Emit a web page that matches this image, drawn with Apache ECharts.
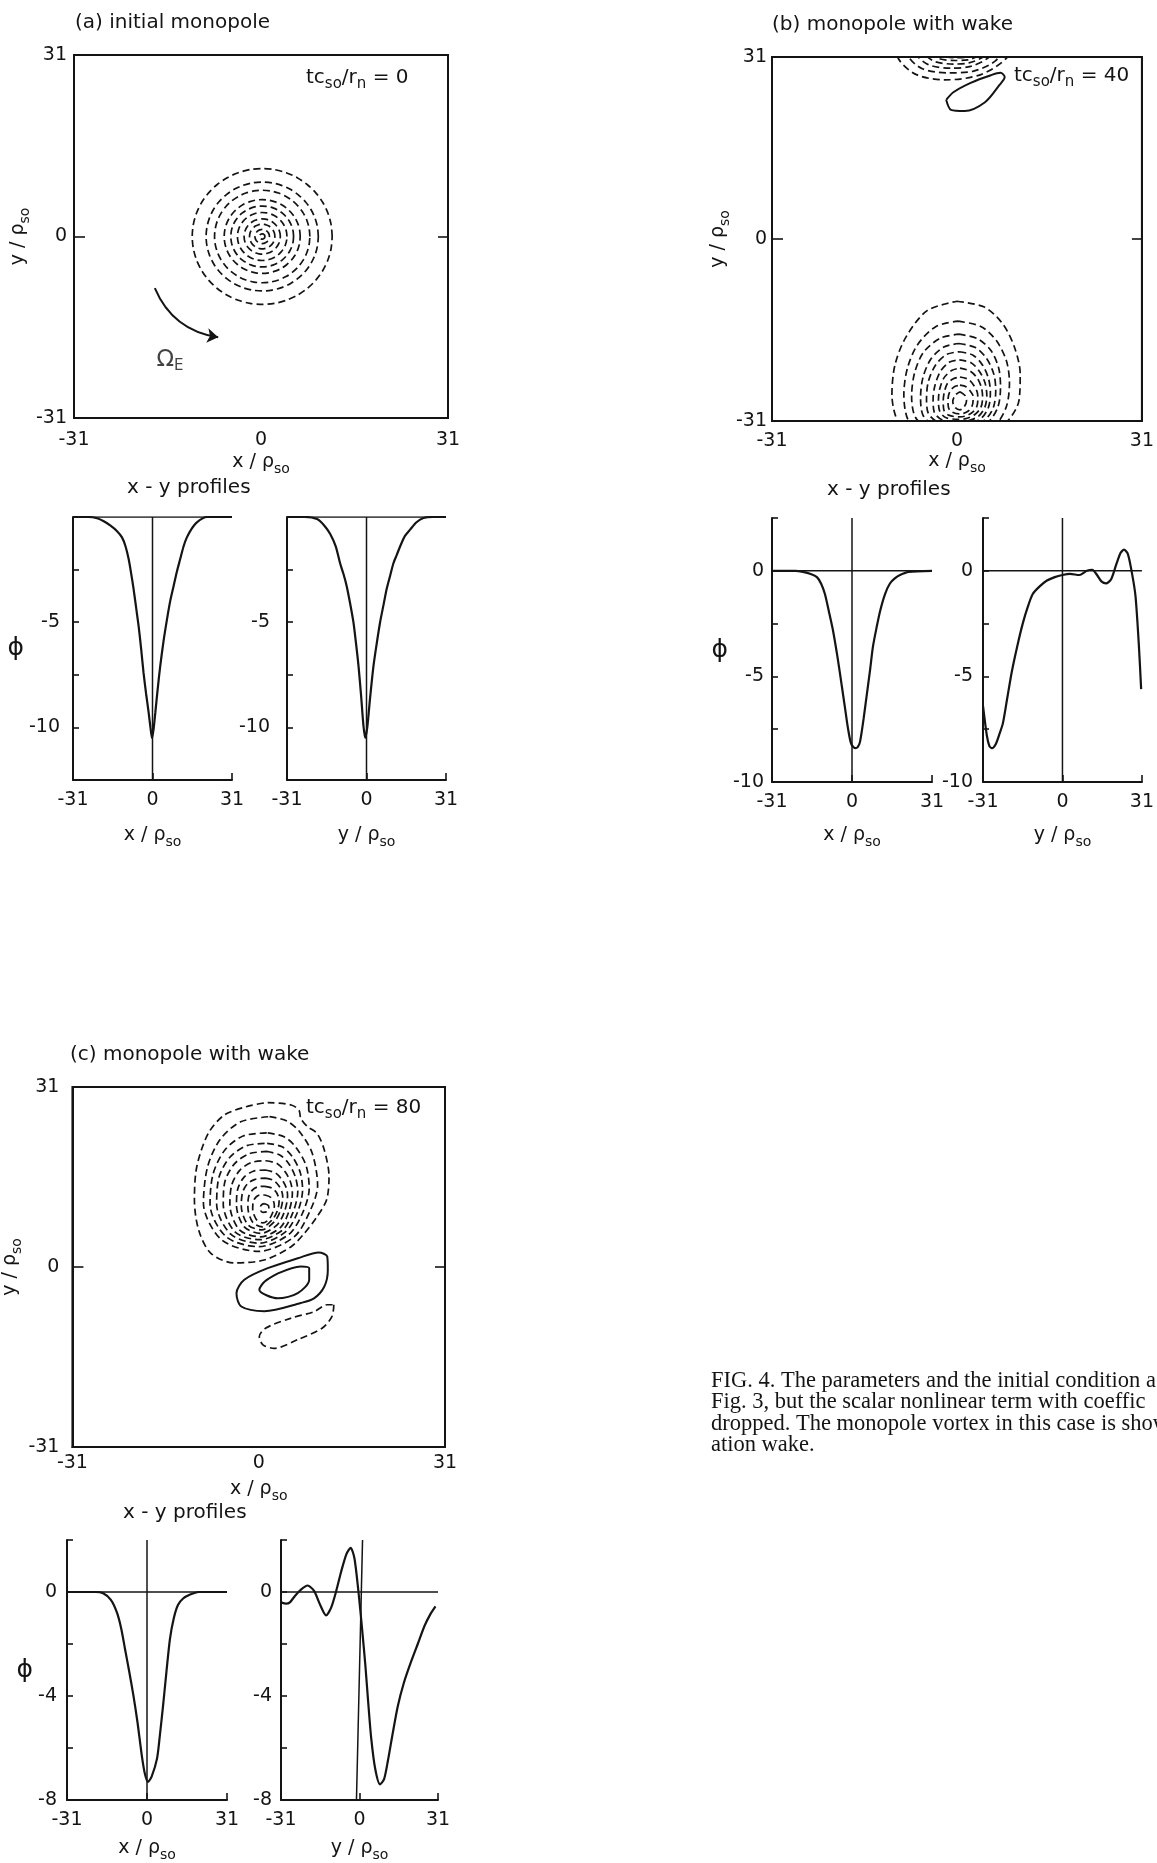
<!DOCTYPE html>
<html><head><meta charset="utf-8">
<script src="https://cdn.jsdelivr.net/npm/echarts/dist/echarts.min.js"></script>
<style>html,body{margin:0;padding:0;background:#fff}#c{width:1157px;height:1863px}</style>
</head><body><div id="c"></div>
<script>
// ---------------- data ----------------
const axisTickValues = [-31, 0, 31];
const aPhiLabels = [-5, -10];
const bPhiLabels = [0, -5, -10];
const cPhiLabels = [0, -4, -8];

// (a) initial monopole: concentric contour radii around the vortex centre
const aVortexCenter = [0.2, 0.0];
const aRingRadii = [11.6, 9.3, 7.9, 6.3, 5.2, 4.1, 3.0, 2.1, 1.2, 0.45];
const omegaArrow = [[-17.6, -8.8], [-7.1, -17.2]];
const omegaLabelPos = [-15.1, -21.1];

// (b) monopole with wake (t=40): nested negative contours (periodic in y)
const bRing1 = [[0,-10.6],[4.6,-11.6],[7.7,-14.5],[9.7,-18.6],[10.6,-23],[10.4,-27.5],[8.3,-31.2],[4,-34.0],[-2,-34.9],[-6.8,-34.0],[-9.8,-31.3],[-10.9,-26.5],[-10.4,-21.5],[-8.6,-16.8],[-5.0,-12.2]];
const bRing2 = [[0.2,-14.0],[4.0,-14.9],[6.6,-17.3],[8.3,-20.8],[8.8,-24.5],[8.3,-28.5],[6.5,-31.6],[2.8,-33.4],[-1.5,-33.7],[-5.8,-33],[-8.2,-30.8],[-8.9,-26.5],[-8.3,-22.0],[-6.6,-18.0],[-3.5,-14.9]];
const bRing3 = [[0.3,-16.2],[3.5,-17.0],[5.7,-19.0],[7.0,-22.0],[7.3,-25.2],[6.9,-28.5],[5.4,-31.0],[2.3,-32.6],[-1.0,-32.9],[-4.8,-32.3],[-7.0,-30.3],[-7.6,-26.8],[-7.1,-22.8],[-5.6,-19.3],[-2.8,-16.9]];
const bRing4 = [[0.3,-17.8],[3.1,-18.5],[5.0,-20.4],[6.2,-23.1],[6.5,-25.8],[6.1,-28.7],[4.7,-30.8],[2.0,-32.0],[-0.6,-32.2],[-3.9,-31.7],[-5.7,-30.0],[-6.1,-27.0],[-5.7,-23.6],[-4.4,-20.5],[-2.2,-18.4]];
const bRing5 = [[0.4,-19.2],[2.7,-19.8],[4.3,-21.5],[5.3,-23.8],[5.6,-26.2],[5.3,-28.6],[4.1,-30.5],[1.8,-31.5],[-0.3,-31.6],[-3.2,-31.2],[-4.8,-29.7],[-5.1,-27.2],[-4.8,-24.3],[-3.6,-21.5],[-1.8,-19.7]];
const bRing6 = [[0.4,-20.6],[2.4,-21.1],[3.8,-22.6],[4.7,-24.5],[5.0,-26.6],[4.7,-28.6],[3.6,-30.2],[1.7,-31.0],[0,-31.1],[-2.5,-30.8],[-3.8,-29.5],[-4.0,-27.3],[-3.7,-25.0],[-2.8,-22.6],[-1.3,-21.0]];
const bRing7 = [[0.5,-22.0],[2.2,-22.5],[3.4,-23.7],[4.1,-25.3],[4.3,-27.0],[4.0,-28.7],[3.0,-29.9],[1.5,-30.6],[0.2,-30.7],[-1.9,-30.4],[-2.9,-29.3],[-3.1,-27.4],[-2.9,-25.6],[-2.2,-23.7],[-0.9,-22.4]];
const bRing8 = [[0.5,-23.5],[1.9,-23.9],[2.8,-24.9],[3.4,-26.1],[3.5,-27.3],[3.3,-28.6],[2.5,-29.6],[1.3,-30.2],[0.3,-30.3],[-1.4,-30.0],[-2.2,-29.1],[-2.3,-27.5],[-2.1,-26.0],[-1.6,-24.6],[-0.6,-23.8]];
const bRing9 = [[0.5,-24.9],[1.6,-25.2],[2.3,-26.0],[2.7,-26.8],[2.7,-27.6],[2.5,-28.5],[1.9,-29.3],[1.1,-29.7],[0.4,-29.8],[-0.8,-29.5],[-1.4,-28.8],[-1.5,-27.6],[-1.4,-26.6],[-1.0,-25.7],[-0.3,-25.1]];
const bRing10 = [[0.5,-26.0],[1.4,-26.7],[1.6,-27.6],[1.2,-28.6],[0.5,-29.1],[-0.3,-28.7],[-0.7,-27.7],[-0.3,-26.6]];
const bSolid = [[-1.8,23.7],[-1.0,22.0],[1.3,21.8],[4.7,23.3],[7.1,26.2],[8.0,27.6],[7.3,28.3],[5.7,27.9],[2.3,26.6],[-0.6,25.0]];
const domainPeriod = 62;

// (c) monopole with wake (t=80)
const cRing1 = [[-2.1,27.6],[1.5,28.3],[5.4,27.9],[6.7,27.0],[7.0,25.6],[8.1,24.2],[9.7,23.0],[10.9,20.2],[11.7,15.6],[11.3,11.6],[9.6,8.5],[7.6,5.8],[5.4,3.5],[0.9,1.2],[-4.1,0.7],[-8.0,2.4],[-10.0,6.4],[-10.7,11.6],[-10.3,17.3],[-8.4,23.0],[-5.7,26.2]];
const cRing2 = [[1.8,25.9],[4.6,25.2],[6.8,23.3],[8.9,19.6],[9.8,14],[8.6,9.8],[5.9,5.2],[0,2.7],[-6.2,4.7],[-9.2,11],[-8.5,17.3],[-6.4,22.0],[-3.0,25.0]];
const cRing3 = [[1.5,23.1],[4.3,22.4],[6.2,20.6],[7.9,17.4],[8.4,13.5],[7.3,9.3],[5.0,5.6],[0,3.5],[-5.4,5.2],[-8.1,10.8],[-7.6,16.0],[-5.6,20.2],[-2.5,22.6]];
const cRing4 = [[1.4,21.3],[3.9,20.7],[5.6,19.0],[6.9,16.3],[7.3,13.3],[6.4,9.3],[4.4,6.0],[0.1,4.1],[-4.6,5.6],[-7.0,10.8],[-6.6,15.5],[-4.8,18.9],[-2.0,20.9]];
const cRing5 = [[1.3,19.9],[3.5,19.3],[5.0,17.8],[6.1,15.5],[6.5,13.0],[5.7,9.4],[4.0,6.4],[0.2,4.7],[-3.9,6.0],[-5.9,10.8],[-5.6,14.8],[-4.0,17.8],[-1.6,19.5]];
const cRing6 = [[1.2,18.3],[3.1,17.8],[4.4,16.4],[5.3,14.6],[5.6,12.7],[5.0,9.5],[3.6,6.8],[0.3,5.2],[-3.2,6.4],[-4.8,10.7],[-4.5,14.1],[-3.2,16.6],[-1.2,18.0]];
const cRing7 = [[1.1,16.7],[2.8,16.2],[3.9,15.0],[4.6,13.6],[4.8,12.3],[4.3,9.6],[3.1,7.3],[0.4,5.8],[-2.4,6.9],[-3.7,10.6],[-3.5,13.4],[-2.5,15.4],[-0.9,16.5]];
const cRing8 = [[1.1,15.3],[2.5,14.9],[3.4,13.9],[3.9,12.8],[4.0,11.9],[3.6,9.7],[2.6,7.8],[0.5,6.4],[-1.8,7.3],[-2.9,10.5],[-2.7,12.8],[-1.9,14.3],[-0.6,15.1]];
const cRing9 = [[1.0,13.9],[2.2,13.6],[2.9,12.9],[3.3,12.0],[3.4,11.4],[3.1,9.7],[2.3,8.2],[0.6,6.9],[-1.0,7.7],[-1.8,10.3],[-1.7,12.0],[-1.1,13.2],[-0.2,13.8]];
const cRing10 = [[1.0,12.4],[2.0,12.0],[2.5,11.2],[2.6,10.5],[2.3,9.3],[1.7,8.2],[0.7,7.6],[-0.4,8.2],[-1.0,10.0],[-0.9,11.3],[-0.4,12.1],[0.3,12.4]];
const cCore = [[1.0,10.9],[1.6,10.6],[1.7,10.0],[1.3,9.5],[0.7,9.4],[0.3,9.8],[0.3,10.4],[0.6,10.8]];
const cSolidOuter = [[1.5,-0.2],[6.5,1.5],[10.0,2.5],[11.4,1.8],[11.5,-0.5],[10.9,-3.4],[9.2,-5.4],[7.0,-6.2],[0.95,-7.6],[-2.9,-6.8],[-3.7,-4.5],[-2.4,-2.2]];
const cSolidInner = [[3.2,-1.1],[7.0,0.1],[8.4,-0.2],[8.4,-2.2],[6.5,-4.5],[3.2,-5.4],[0.1,-3.9],[1.0,-2.5]];
const cDashLower = [[12.5,-6.5],[12.2,-8.5],[10.6,-10.5],[6.5,-12.5],[2.6,-14.0],[0.7,-13.4],[0.1,-12.0],[1.2,-10.5],[5.4,-8.8],[9.2,-7.7],[11.4,-6.5]];

// x-y profiles
const aXProfX = [-31,-25,-21.6,-19,-16.5,-14,-11.9,-10.5,-9.3,-8.3,-7.4,-6.4,-5.4,-4.4,-3.5,-2.5,-1.5,-0.8,-0.2,0.4,1.1,2.0,3.0,4.3,5.6,6.9,8.2,9.5,10.8,12.1,13.4,15.3,17.3,21.2,25,31];
const aXProfPhi = [0,0,-0.06,-0.2,-0.4,-0.65,-0.97,-1.4,-2.0,-2.7,-3.4,-4.3,-5.2,-6.3,-7.4,-8.4,-9.3,-10.0,-10.5,-10.1,-9.3,-8.2,-7.1,-5.9,-4.9,-4.0,-3.3,-2.6,-2.0,-1.4,-0.97,-0.55,-0.25,0,0,0];
const aYProfY = [-31,-24,-19.3,-16.5,-14.2,-12,-10.3,-9,-7.7,-6.4,-5.1,-4.1,-3.1,-2.1,-1.2,-0.5,0.3,1.4,2.7,4.0,5.3,6.6,7.9,9.2,10.5,11.8,13.1,15,17,19.5,22.2,26,31];
const aYProfPhi = [0,0,-0.1,-0.4,-0.8,-1.4,-2.2,-2.7,-3.3,-4.1,-5.0,-6.0,-7.1,-8.5,-9.9,-10.5,-10.0,-8.6,-7.1,-6.0,-5.0,-4.2,-3.4,-2.8,-2.2,-1.8,-1.4,-0.9,-0.6,-0.25,-0.05,0,0];
const bXProfX = [-31,-22,-19,-16,-13.6,-12,-10.5,-9,-7.4,-5.6,-3.9,-2.7,-1.5,-0.3,1.2,2.2,3.1,4.5,5.8,7.0,8.1,9.5,10.9,12.8,14.7,16.7,18.6,22,31];
const bXProfPhi = [0,0,-0.05,-0.15,-0.3,-0.6,-1.1,-1.9,-2.8,-4.1,-5.5,-6.5,-7.5,-8.2,-8.4,-8.35,-8.1,-7.0,-5.8,-4.7,-3.6,-2.7,-1.9,-1.1,-0.6,-0.35,-0.2,-0.05,0];
const bYProfY = [-31,-29.5,-28.5,-27.5,-26,-24.5,-23.2,-21.5,-19.8,-17.5,-15.5,-13.5,-11.6,-9,-6.2,-3,0,3,6.6,9.5,11.6,13.5,15.2,17,19,21,22.7,24,25.5,27.1,28.5,29.8,30.7];
const bYProfPhi = [-6.4,-7.8,-8.3,-8.4,-8.2,-7.7,-7.2,-6.0,-4.8,-3.5,-2.5,-1.7,-1.1,-0.75,-0.47,-0.3,-0.2,-0.15,-0.2,0,0.05,-0.2,-0.5,-0.6,-0.4,0.3,0.85,1.0,0.8,-0.1,-1.2,-3.5,-5.6];
const cXProfX = [-31,-20,-17,-14,-11.6,-10,-8.5,-7,-5.4,-3.7,-2,-0.8,0.4,1.8,3.9,5,6.2,7.5,8.9,10.4,12,14,16.7,20,31];
const cXProfPhi = [0,0,-0.05,-0.3,-0.8,-1.4,-2.2,-3.0,-3.9,-5.0,-6.3,-7.0,-7.3,-7.1,-6.4,-5.5,-4.4,-3.1,-1.8,-1.0,-0.5,-0.25,-0.1,0,0];
const cYProfY = [-31,-29,-27.5,-25.5,-23,-20.5,-18,-15.5,-13.2,-11.2,-9.3,-7.2,-5.2,-3.5,-2,-0.4,1,2.3,3.4,4.6,6.2,8.1,9.7,11.2,13,15.1,17.5,20.3,23,25.7,28,30];
const cYProfPhi = [-0.4,-0.45,-0.4,-0.15,0.1,0.25,0.05,-0.5,-0.9,-0.6,0,0.8,1.45,1.7,1.3,0,-1.4,-2.8,-4.2,-5.6,-6.8,-7.4,-7.2,-6.5,-5.5,-4.4,-3.5,-2.7,-2.0,-1.3,-0.85,-0.55];
const cYProfAxisLine = [[-1.2,-8],[1.2,2]];

const captionLines = [
  'FIG. 4. The parameters and the initial condition a',
  'Fig. 3, but the scalar nonlinear term with coeffic',
  'dropped. The monopole vortex in this case is show',
  'ation wake.'
];

// ---------------- helpers ----------------
const FONT = "'DejaVu Sans', sans-serif";
const INK = '#141414';
const zip = (xs, ys) => xs.map((x, i) => [x, ys[i]]);
const closeLoop = pts => pts.concat([pts[0]]);
const shiftY = (pts, d) => pts.map(p => [p[0], p[1] + d]);
function circlePts(c, r) {
  const out = [];
  for (let k = 0; k < 36; k++) { const t = k * Math.PI / 18; out.push([c[0] + r * Math.cos(t), c[1] + r * Math.sin(t)]); }
  return out;
}
const rich = {
  t: { fontSize: 19, lineHeight: 28, fontFamily: FONT, color: INK, verticalAlign: 'middle' },
  s: { fontSize: 14, lineHeight: 14, fontFamily: FONT, color: INK, verticalAlign: 'bottom' }
};
const sub = (a, b) => `{t|${a}}{s|${b}}`;
const axLine = { show: true, onZero: false, lineStyle: { color: INK, width: 2 } };

function contourX(g, margin, gap) {
  return { gridIndex: g, type: 'value', min: -31, max: 31, interval: 31,
    axisLine: axLine, axisTick: { show: false }, splitLine: { show: false },
    axisLabel: { fontSize: 19, color: INK, fontFamily: FONT, margin: margin, showMinLabel: true, showMaxLabel: true },
    name: sub('x / ρ', 'so'), nameLocation: 'middle', nameGap: gap, nameTextStyle: { rich } };
}
function contourY(g, margin, gap) {
  return { gridIndex: g, type: 'value', min: -31, max: 31, interval: 31,
    axisLine: axLine,
    axisTick: { show: true, inside: true, length: 11, lineStyle: { color: INK, width: 1.6 } }, splitLine: { show: false },
    axisLabel: { fontSize: 19, color: INK, fontFamily: FONT, margin: margin, showMinLabel: true, showMaxLabel: true },
    name: sub('y / ρ', 'so'), nameLocation: 'middle', nameGap: gap, nameRotate: 90, nameTextStyle: { rich } };
}
function contourYR(g) {
  return { gridIndex: g, type: 'value', position: 'right', min: -31, max: 31, interval: 31,
    axisLine: axLine,
    axisTick: { show: true, inside: true, length: 10, lineStyle: { color: INK, width: 1.6 } },
    axisLabel: { show: false }, splitLine: { show: false } };
}
function profX(g, label, gap) {
  return { gridIndex: g, type: 'value', min: -31, max: 31, interval: 31,
    axisLine: axLine,
    axisTick: { show: true, inside: true, length: 7, lineStyle: { color: INK, width: 1.6 } }, splitLine: { show: false },
    axisLabel: { fontSize: 19, color: INK, fontFamily: FONT, margin: 11, showMinLabel: true, showMaxLabel: true,
      formatter: v => axisTickValues.includes(v) ? String(v) : '' },
    name: sub(label, 'so'), nameLocation: 'middle', nameGap: gap, nameTextStyle: { rich } };
}
function profY(g, min, max, step, labels, margin, phiGap) {
  const ax = { gridIndex: g, type: 'value', min, max, interval: step,
    axisLine: axLine,
    axisTick: { show: true, inside: true, length: 6, lineStyle: { color: INK, width: 1.6 } }, splitLine: { show: false },
    axisLabel: { fontSize: 19, color: INK, fontFamily: FONT, margin: margin, showMinLabel: true, showMaxLabel: true,
      formatter: v => labels.includes(v) ? String(v) : '' } };
  if (phiGap) Object.assign(ax, { name: 'ϕ', nameLocation: 'middle', nameRotate: 0, nameGap: phiGap,
    nameTextStyle: { fontSize: 25, color: INK, fontFamily: FONT } });
  return ax;
}
function loop(g, pts, dashed) {
  return { type: 'line', xAxisIndex: g, yAxisIndex: g, data: closeLoop(pts), smooth: 0.3,
    symbol: 'none', silent: true, clip: true,
    lineStyle: { color: INK, width: dashed ? 1.7 : 2, type: dashed ? [7, 4] : 'solid' } };
}
function curve(g, pts, w, sm) {
  return { type: 'line', xAxisIndex: g, yAxisIndex: g, data: pts, smooth: sm || 0, symbol: 'none', silent: true,
    lineStyle: { color: INK, width: w } };
}

// ---------------- build ----------------
const grids = [
  { left: 74, top: 55, width: 374, height: 363 },
  { left: 772, top: 57, width: 374, height: 364 },
  { left: 70, top: 1087, width: 375, height: 360 },
  { left: 73, top: 517, width: 159, height: 263 },
  { left: 287, top: 517, width: 159, height: 263 },
  { left: 772, top: 518, width: 160, height: 264 },
  { left: 983, top: 518, width: 160, height: 264 },
  { left: 67, top: 1540, width: 160, height: 260 },
  { left: 281, top: 1540, width: 157, height: 260 }
].map((g, i) => Object.assign(g, i < 3 ? { show: true, borderColor: INK, borderWidth: 2 } : {}));

const xAxes = [
  contourX(0, 13, 30), contourX(1, 11, 19), contourX(2, 7, 28),
  profX(3, 'x / ρ', 41), profX(4, 'y / ρ', 41), profX(5, 'x / ρ', 39), profX(6, 'y / ρ', 39),
  profX(7, 'x / ρ', 34), profX(8, 'y / ρ', 34)
];
const yAxes = [
  contourY(0, 7, 30), contourY(1, 5, 30), contourY(2, 13, 30),
  profY(3, -12.5, 0, 2.5, aPhiLabels, 13, 38), profY(4, -12.5, 0, 2.5, aPhiLabels, 17),
  profY(5, -10, 2.5, 2.5, bPhiLabels, 8, 31), profY(6, -10, 2.5, 2.5, bPhiLabels, 10),
  profY(7, -8, 2, 2, cPhiLabels, 10, 34), profY(8, -8, 2, 2, cPhiLabels, 9),
  contourYR(0), contourYR(1), contourYR(2)
];

const series = [];
// (a)
aRingRadii.forEach(r => series.push(loop(0, circlePts(aVortexCenter, r), true)));
series.push({ type: 'lines', coordinateSystem: 'cartesian2d', xAxisIndex: 0, yAxisIndex: 0, polyline: false, silent: true,
  symbol: ['none', 'arrow'], symbolSize: [0, 11],
  lineStyle: { color: INK, width: 2, curveness: -0.28, opacity: 1 }, data: [{ coords: omegaArrow }] });
series.push({ type: 'scatter', xAxisIndex: 0, yAxisIndex: 0, data: [omegaLabelPos], symbolSize: 0, silent: true,
  label: { show: true, position: 'inside', formatter: sub('Ω', 'E'),
    rich: { t: Object.assign({}, rich.t, { fontSize: 23 }), s: Object.assign({}, rich.s, { fontSize: 15 }) } } });
// (b)
[bRing1, bRing2, bRing3, bRing4, bRing5, bRing6, bRing7, bRing8, bRing9, bRing10].forEach(r => {
  series.push(loop(1, r, true));
  series.push(loop(1, shiftY(r, domainPeriod), true));
});
series.push(loop(1, bSolid, false));
// (c)
[cRing1, cRing2, cRing3, cRing4, cRing5, cRing6, cRing7, cRing8, cRing9, cRing10, cCore, cDashLower]
  .forEach(r => series.push(loop(2, r, true)));
series.push(loop(2, cSolidOuter, false));
series.push(loop(2, cSolidInner, false));
// profiles
const profiles = [
  [3, aXProfX, aXProfPhi, -12.5, 0], [4, aYProfY, aYProfPhi, -12.5, 0],
  [5, bXProfX, bXProfPhi, -10, 2.5], [6, bYProfY, bYProfPhi, -10, 2.5],
  [7, cXProfX, cXProfPhi, -8, 2], [8, cYProfY, cYProfPhi, -8, 2]
];
profiles.forEach(([g, xs, ys, lo, hi]) => {
  series.push(curve(g, [[-31, 0], [31, 0]], 1.5));
  series.push(curve(g, g === 8 ? cYProfAxisLine : [[0, lo], [0, hi]], 1.5));
  series.push(curve(g, zip(xs, ys), 2.2, 0.25));
});

const tStyle = (fs) => ({ fontSize: fs, fontWeight: 'normal', color: INK, fontFamily: FONT, rich: {
  t: Object.assign({}, rich.t, { fontSize: fs }), s: Object.assign({}, rich.s, { fontSize: fs - 5 }) } });
const tc = v => `{t|tc}{s|so}{t|/r}{s|n}{t| = ${v}}`;
const titles = [
  { text: '(a) initial monopole', left: 75, top: 13, fs: 20 },
  { text: '(b) monopole with wake', left: 772, top: 15, fs: 20 },
  { text: '(c) monopole with wake', left: 70, top: 1045, fs: 20 },
  { text: 'x - y profiles', left: 127, top: 478, fs: 20 },
  { text: 'x - y profiles', left: 827, top: 480, fs: 20 },
  { text: 'x - y profiles', left: 123, top: 1503, fs: 20 },
  { text: tc(0), left: 306, top: 64, fs: 20 },
  { text: tc(40), left: 1014, top: 62, fs: 20 },
  { text: tc(80), left: 306, top: 1094, fs: 20 }
].map(t => ({ text: t.text, left: t.left, top: t.top, padding: 0, textStyle: tStyle(t.fs) }));
titles.push({ text: captionLines.join('\n'), left: 711, top: 1370, padding: 0,
  textStyle: { fontSize: 22.5, lineHeight: 21.5, fontWeight: 'normal', color: INK, fontFamily: "'Liberation Serif', serif" } });

const chart = echarts.init(document.getElementById('c'), null, { renderer: 'canvas' });
chart.setOption({
  backgroundColor: '#fff', animation: false,
  title: titles, grid: grids, xAxis: xAxes, yAxis: yAxes, series
});
</script></body></html>
